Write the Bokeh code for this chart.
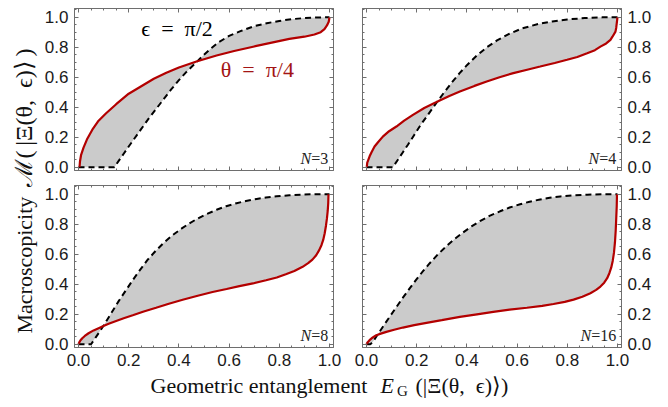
import math
from bokeh.plotting import figure
from bokeh.layouts import row, column
from bokeh.models import Range1d, LinearAxis, SingleIntervalTicker, PrintfTickFormatter, Label
from bokeh.embed import file_html
from bokeh.resources import INLINE
from bokeh.core.properties import value

# ---------------- data ----------------
N3_dash_x = [0.0, 0.143, 0.16, 0.18, 0.2, 0.22, 0.25, 0.28, 0.31, 0.34, 0.37, 0.4, 0.43, 0.474,
             0.5, 0.53, 0.56, 0.6, 0.65, 0.7, 0.75, 0.8, 0.85, 0.9, 0.95, 1.0]
N3_dash_y = [0.0, 0.0, 0.042, 0.09, 0.138, 0.185, 0.255, 0.325, 0.39, 0.455, 0.52, 0.58, 0.635, 0.707,
             0.75, 0.795, 0.835, 0.875, 0.91, 0.94, 0.96, 0.975, 0.987, 0.994, 0.998, 1.0]
N3_red_x = [0.004, 0.006, 0.01, 0.02, 0.035, 0.055, 0.08, 0.11, 0.15, 0.2, 0.25, 0.3, 0.35, 0.4,
            0.47, 0.55, 0.62, 0.7, 0.77, 0.84, 0.9, 0.94, 0.965, 0.98, 0.99, 0.997, 1.0]
N3_red_y = [0.0, 0.04, 0.08, 0.13, 0.19, 0.25, 0.31, 0.36, 0.42, 0.49, 0.54, 0.59, 0.63, 0.665,
            0.705, 0.745, 0.775, 0.805, 0.83, 0.855, 0.87, 0.885, 0.9, 0.92, 0.945, 0.97, 1.0]

N4_dash_x = [0.0, 0.105, 0.125, 0.145, 0.165, 0.19, 0.215, 0.245, 0.279, 0.31, 0.34, 0.37, 0.4, 0.44,
             0.48, 0.52, 0.57, 0.62, 0.68, 0.74, 0.8, 0.87, 0.94, 1.0]
N4_dash_y = [0.0, 0.0, 0.05, 0.1, 0.15, 0.215, 0.28, 0.35, 0.43, 0.5, 0.565, 0.625, 0.68, 0.745,
             0.8, 0.845, 0.89, 0.925, 0.953, 0.972, 0.985, 0.994, 0.999, 1.0]
N4_red_x = [0.001, 0.003, 0.012, 0.02, 0.032, 0.045, 0.065, 0.09, 0.119, 0.15, 0.185, 0.23, 0.279,
            0.33, 0.372, 0.43, 0.479, 0.53, 0.585, 0.64, 0.692, 0.75, 0.799, 0.84, 0.879, 0.91,
            0.932, 0.955, 0.972, 0.98, 0.992, 0.995, 1.0]
N4_red_y = [0.0, 0.03, 0.071, 0.1, 0.138, 0.165, 0.204, 0.24, 0.271, 0.31, 0.349, 0.395, 0.434,
            0.475, 0.504, 0.542, 0.571, 0.6, 0.627, 0.65, 0.671, 0.695, 0.716, 0.735, 0.76, 0.78,
            0.804, 0.825, 0.849, 0.87, 0.904, 0.93, 1.0]

N8_dash_x = [0.0, 0.05, 0.06, 0.07, 0.085, 0.097, 0.115, 0.137, 0.16, 0.19, 0.215, 0.243, 0.275,
             0.309, 0.34, 0.375, 0.41, 0.442, 0.475, 0.508, 0.55, 0.588, 0.63, 0.667, 0.71, 0.747,
             0.79, 0.84, 0.9, 0.95, 1.0]
N8_dash_y = [0.0, 0.0, 0.024, 0.049, 0.086, 0.116, 0.165, 0.225, 0.287, 0.362, 0.425, 0.49, 0.562,
             0.625, 0.677, 0.727, 0.77, 0.806, 0.838, 0.866, 0.896, 0.92, 0.94, 0.955, 0.968, 0.978,
             0.986, 0.993, 0.998, 1.0, 1.0]
N8_red_x = [0.0, 0.003, 0.008, 0.015, 0.025, 0.04, 0.06, 0.08, 0.097, 0.12, 0.15, 0.18, 0.216, 0.26,
            0.309, 0.36, 0.415, 0.475, 0.534, 0.59, 0.641, 0.695, 0.747, 0.79, 0.826, 0.86, 0.893,
            0.915, 0.932, 0.947, 0.959, 0.968, 0.975, 0.981, 0.986, 0.99, 0.993, 0.995, 0.996]
N8_red_y = [0.0, 0.012, 0.026, 0.04, 0.055, 0.073, 0.092, 0.107, 0.119, 0.136, 0.155, 0.173, 0.193,
            0.218, 0.243, 0.27, 0.296, 0.323, 0.348, 0.368, 0.387, 0.405, 0.426, 0.445, 0.466, 0.488,
            0.516, 0.54, 0.564, 0.593, 0.627, 0.66, 0.695, 0.74, 0.79, 0.84, 0.89, 0.94, 1.0]

N16_dash_x = [0.0, 0.015, 0.025, 0.035, 0.05, 0.07, 0.092, 0.118, 0.145, 0.172, 0.199, 0.225, 0.252,
              0.285, 0.319, 0.352, 0.385, 0.42, 0.452, 0.49, 0.532, 0.57, 0.612, 0.65, 0.692, 0.73,
              0.772, 0.82, 0.879, 0.94, 1.0]
N16_dash_y = [0.0, 0.0, 0.015, 0.04, 0.078, 0.128, 0.182, 0.245, 0.31, 0.372, 0.432, 0.487, 0.54,
              0.6, 0.655, 0.703, 0.745, 0.787, 0.82, 0.855, 0.886, 0.911, 0.933, 0.95, 0.965, 0.976,
              0.985, 0.992, 0.997, 1.0, 1.0]
N16_red_x = [0.0, 0.004, 0.012, 0.025, 0.039, 0.06, 0.079, 0.11, 0.145, 0.19, 0.239, 0.3, 0.372,
             0.44, 0.505, 0.57, 0.639, 0.7, 0.745, 0.79, 0.825, 0.86, 0.892, 0.915, 0.932, 0.947,
             0.959, 0.968, 0.975, 0.981, 0.986, 0.99, 0.993, 0.995, 0.997, 0.998]
N16_red_y = [0.0, 0.012, 0.027, 0.045, 0.06, 0.072, 0.082, 0.096, 0.111, 0.127, 0.142, 0.16, 0.182,
             0.199, 0.215, 0.23, 0.243, 0.256, 0.268, 0.282, 0.297, 0.316, 0.34, 0.362, 0.384, 0.41,
             0.44, 0.475, 0.51, 0.555, 0.61, 0.68, 0.76, 0.84, 0.92, 1.0]

panel_labels = ["3", "4", "8", "16"]
tick_interval = 0.2

# ---------------- styling ----------------
FRAME_COLOR = "#6e6e6e"
RED = "#b30000"
FILL = "#cbcbcb"
SERIF = "Liberation Serif"
SANS = "Liberation Sans"
X_RANGE = (-0.016, 1.016)
Y_RANGE = (-0.022, 1.058)
FW, FH = 259, 162
PX_Y = (Y_RANGE[1] - Y_RANGE[0]) / FH   # data units per pixel (vertical)
MID = 0.34                               # baseline -> middle offset, in em


def style_axis(ax, show):
    ax.ticker = SingleIntervalTicker(interval=tick_interval, num_minor_ticks=4)
    ax.formatter = PrintfTickFormatter(format="%.1f")
    ax.major_tick_in = 4
    ax.major_tick_out = 0
    ax.minor_tick_in = 2
    ax.minor_tick_out = 0
    ax.axis_line_color = FRAME_COLOR
    ax.major_tick_line_color = FRAME_COLOR
    ax.minor_tick_line_color = FRAME_COLOR
    ax.axis_line_width = 1
    if show:
        ax.major_label_text_font = SANS
        ax.major_label_text_font_size = "17px"
        ax.major_label_text_color = "#1a1a1a"
        ax.major_label_standoff = 6
    else:
        ax.major_label_text_font_size = "1px"
        ax.major_label_text_color = None
        ax.major_label_standoff = 0


def panel(dx, dy, rx, ry, nlab, ylab_side, show_x, borders):
    bl, br, bt, bb = borders
    p = figure(frame_width=FW, frame_height=FH,
               x_range=Range1d(*X_RANGE), y_range=Range1d(*Y_RANGE),
               x_axis_location="below", y_axis_location=ylab_side,
               output_backend="svg", toolbar_location=None,
               min_border_left=bl, min_border_right=br, min_border_top=bt, min_border_bottom=bb)
    p.xgrid.visible = False
    p.ygrid.visible = False
    p.outline_line_color = FRAME_COLOR
    p.background_fill_color = "white"
    p.border_fill_color = "white"
    style_axis(p.xaxis[0], show_x)
    style_axis(p.yaxis[0], True)
    top = LinearAxis()
    style_axis(top, False)
    p.add_layout(top, "above")
    other = LinearAxis()
    style_axis(other, False)
    p.add_layout(other, "right" if ylab_side == "left" else "left")

    p.patch(x=dx + rx[::-1], y=dy + ry[::-1], fill_color=FILL, line_color=None)
    p.line(dx, dy, line_color="black", line_width=2, line_dash="6 4")
    p.line(rx, ry, line_color=RED, line_width=2.2)

    # "N=.." label: italic N, upright "=n"
    size = 16
    rest = "=" + nlab
    w_rest = (0.564 + 0.5 * len(nlab)) * size
    ymid = 0.022 + MID * size * PX_Y
    p.text(x=[0.995], y=[ymid], text=[rest], text_font=value(SERIF), text_font_size=f"{size}px",
           text_color="#222222", text_align="right", text_baseline="middle")
    p.text(x=[0.995], y=[ymid], x_offset=-w_rest, text=["N"], text_font=value(SERIF),
           text_font_size=f"{size}px", text_font_style="italic", text_color="#222222",
           text_align="right", text_baseline="middle")
    return p


p1 = panel(N3_dash_x, N3_dash_y, N3_red_x, N3_red_y, panel_labels[0], "left", False, (34, 14, 8, 7))
p2 = panel(N4_dash_x, N4_dash_y, N4_red_x, N4_red_y, panel_labels[1], "right", False, (15, 40, 8, 7))
p3 = panel(N8_dash_x, N8_dash_y, N8_red_x, N8_red_y, panel_labels[2], "left", True, (34, 14, 8, 26))
p4 = panel(N16_dash_x, N16_dash_y, N16_red_x, N16_red_y, panel_labels[3], "right", True, (15, 40, 8, 26))

ann = 22
p1.text(x=[0.25], y=[0.872 + MID * ann * PX_Y], text=["\u03f5\u2002=\u2002\u03c0/2"],
        text_font=value(SERIF), text_font_size=f"{ann}px", text_color="black",
        text_align="left", text_baseline="middle")
p1.text(x=[0.567], y=[0.602 + MID * ann * PX_Y], text=["\u03b8\u2002=\u2002\u03c0/4"],
        text_font=value(SERIF), text_font_size=f"{ann}px", text_color="#a31515",
        text_align="left", text_baseline="middle")


def title_label(x, y, text, size=22, style="normal", angle=0.0):
    # (x, y) is the intended baseline start; shift to the em-middle
    if angle:
        x = x - MID * size
    else:
        y = y + MID * size
    return Label(x=x, y=y, text=text, angle=angle, text_font=SERIF, text_font_size=f"{size}px",
                 text_font_style=style, text_color="#111111", text_align="left",
                 text_baseline="middle")


def blank_fig(w, h):
    f = figure(frame_width=w, frame_height=h, x_range=Range1d(0, w), y_range=Range1d(0, h),
               x_axis_location=None, y_axis_location=None, output_backend="svg",
               toolbar_location=None, min_border=0, outline_line_color=None)
    f.xgrid.visible = False
    f.ygrid.visible = False
    return f


# ---------------- shared axis titles ----------------
ylab = blank_fig(40, 407)
ylab.add_layout(title_label(31.5, 74, "Macroscopicity", angle=math.pi / 2))
ylab.add_layout(title_label(31.5, 221, "\u2133(\u2009|\u039e(\u03b8,\u2002\u03f5)\u27e9\u2009)",
                            size=24, angle=math.pi / 2))

xlab = blank_fig(621, 34)
xlab.add_layout(title_label(110, 15, "Geometric entanglement"))
xlab.add_layout(title_label(340, 15, "E", style="italic"))
xlab.add_layout(title_label(356.5, 11.5, "G", size=15))
xlab.add_layout(title_label(375, 15, "(|\u039e(\u03b8,\u2002\u03f5)\u27e9)"))

layout = row(ylab, column(row(p1, p2), row(p3, p4), xlab))

open("out.html", "w").write(file_html(layout, INLINE))
